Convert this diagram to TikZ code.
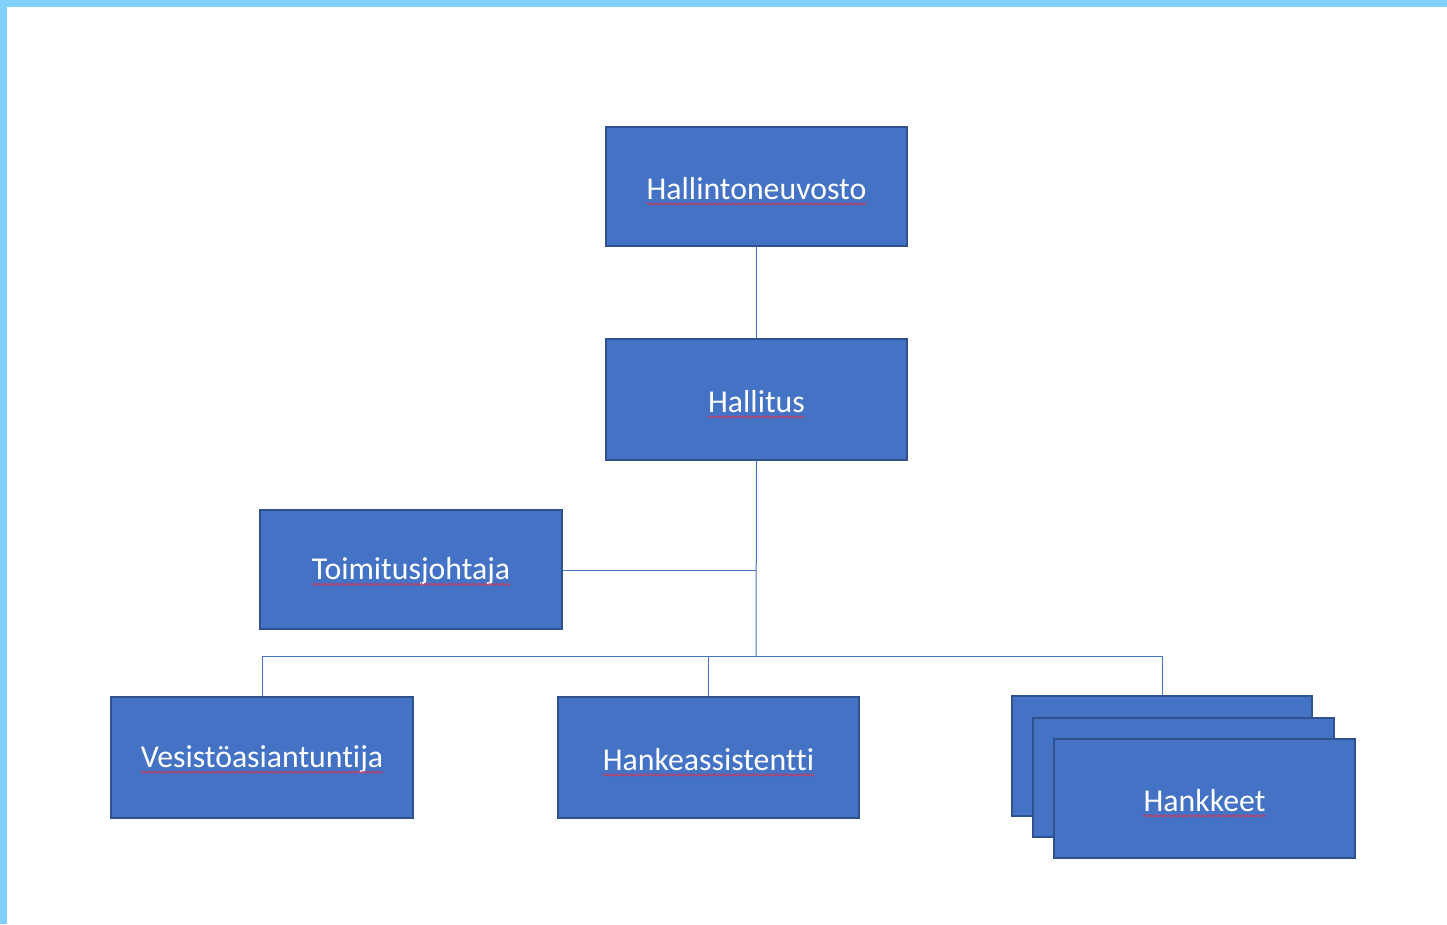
\documentclass[tikz,border=0pt]{standalone}
\usepackage{fontspec}
\setmainfont{Carlito}[Ligatures=NoCommon]
\usetikzlibrary{decorations.pathmorphing}
\definecolor{boxfill}{HTML}{4472C4}
\definecolor{boxline}{HTML}{2F528F}
\definecolor{conn}{HTML}{4472C4}
\definecolor{frame}{HTML}{82D0FC}
\definecolor{spell}{HTML}{E0314B}
\tikzset{
  orgbox/.style={draw=boxline, line width=1.2pt, fill=boxfill, rectangle, inner sep=0pt},
  lbl/.style={text=white, inner sep=0pt, font=\fontsize{31.8}{34}\selectfont},
  wavy/.style={draw=spell, line width=0.7pt, decorate, decoration={snake, amplitude=1pt, segment length=3.4pt}},
  link/.style={draw=conn, line width=1pt}
}
\newcommand{\orgnode}[6]{%
  \node[orgbox, minimum width=#3pt, minimum height=#4pt] (#1) at (#2) {};
  \node[lbl, yshift=-2pt] (#5) at (#1.center) {#6};
  \draw[wavy] ([yshift=-4.5pt]#5.base west) -- ([yshift=-4.5pt]#5.base east);
}
\begin{document}
\begin{tikzpicture}[x=1pt,y=-1pt]
\useasboundingbox (0,0) rectangle (1447,924);
\fill[white] (0,0) rectangle (1447,924);
\fill[frame] (0,0) rectangle (1447,7);
\fill[frame] (0,0) rectangle (7,924);

\orgnode{hn}{756.5,186.5}{301}{119}{hnl}{Hallintoneuvosto}
\orgnode{ha}{756.5,399.5}{301}{121}{hal}{Hallitus}
\orgnode{tj}{411,569.5}{302}{119}{tjl}{Toimitusjohtaja}
\orgnode{ve}{262,757.5}{302}{121}{vel}{Vesistöasiantuntija}
\orgnode{as}{708.5,757.5}{301}{121}{asl}{Hankeassistentti}
\node[orgbox, minimum width=300pt, minimum height=120pt] (hk1) at (1162,756) {};
\node[orgbox, minimum width=301pt, minimum height=119pt] (hk2) at (1183.5,777.5) {};
\orgnode{hk3}{1204.5,798.5}{301}{119}{hkl}{Hankkeet}

\coordinate (bus) at (756,656);
\coordinate (busL) at (262,656);
\coordinate (busM) at (708,656);
\coordinate (busR) at (1162,656);
\coordinate (tjj) at (756,570);

\draw[link] (hn.south) -- (ha.north);
\draw[link] (ha.south) -- (bus);
\draw[link] (tj.east |- tjj) -- (tjj);
\draw[link] (busL) -- (busR);
\draw[link] (busL) -- (ve.north);
\draw[link] (busM) -- (as.north -| busM);
\draw[link] (busR) -- (hk1.north);
\end{tikzpicture}
\end{document}
